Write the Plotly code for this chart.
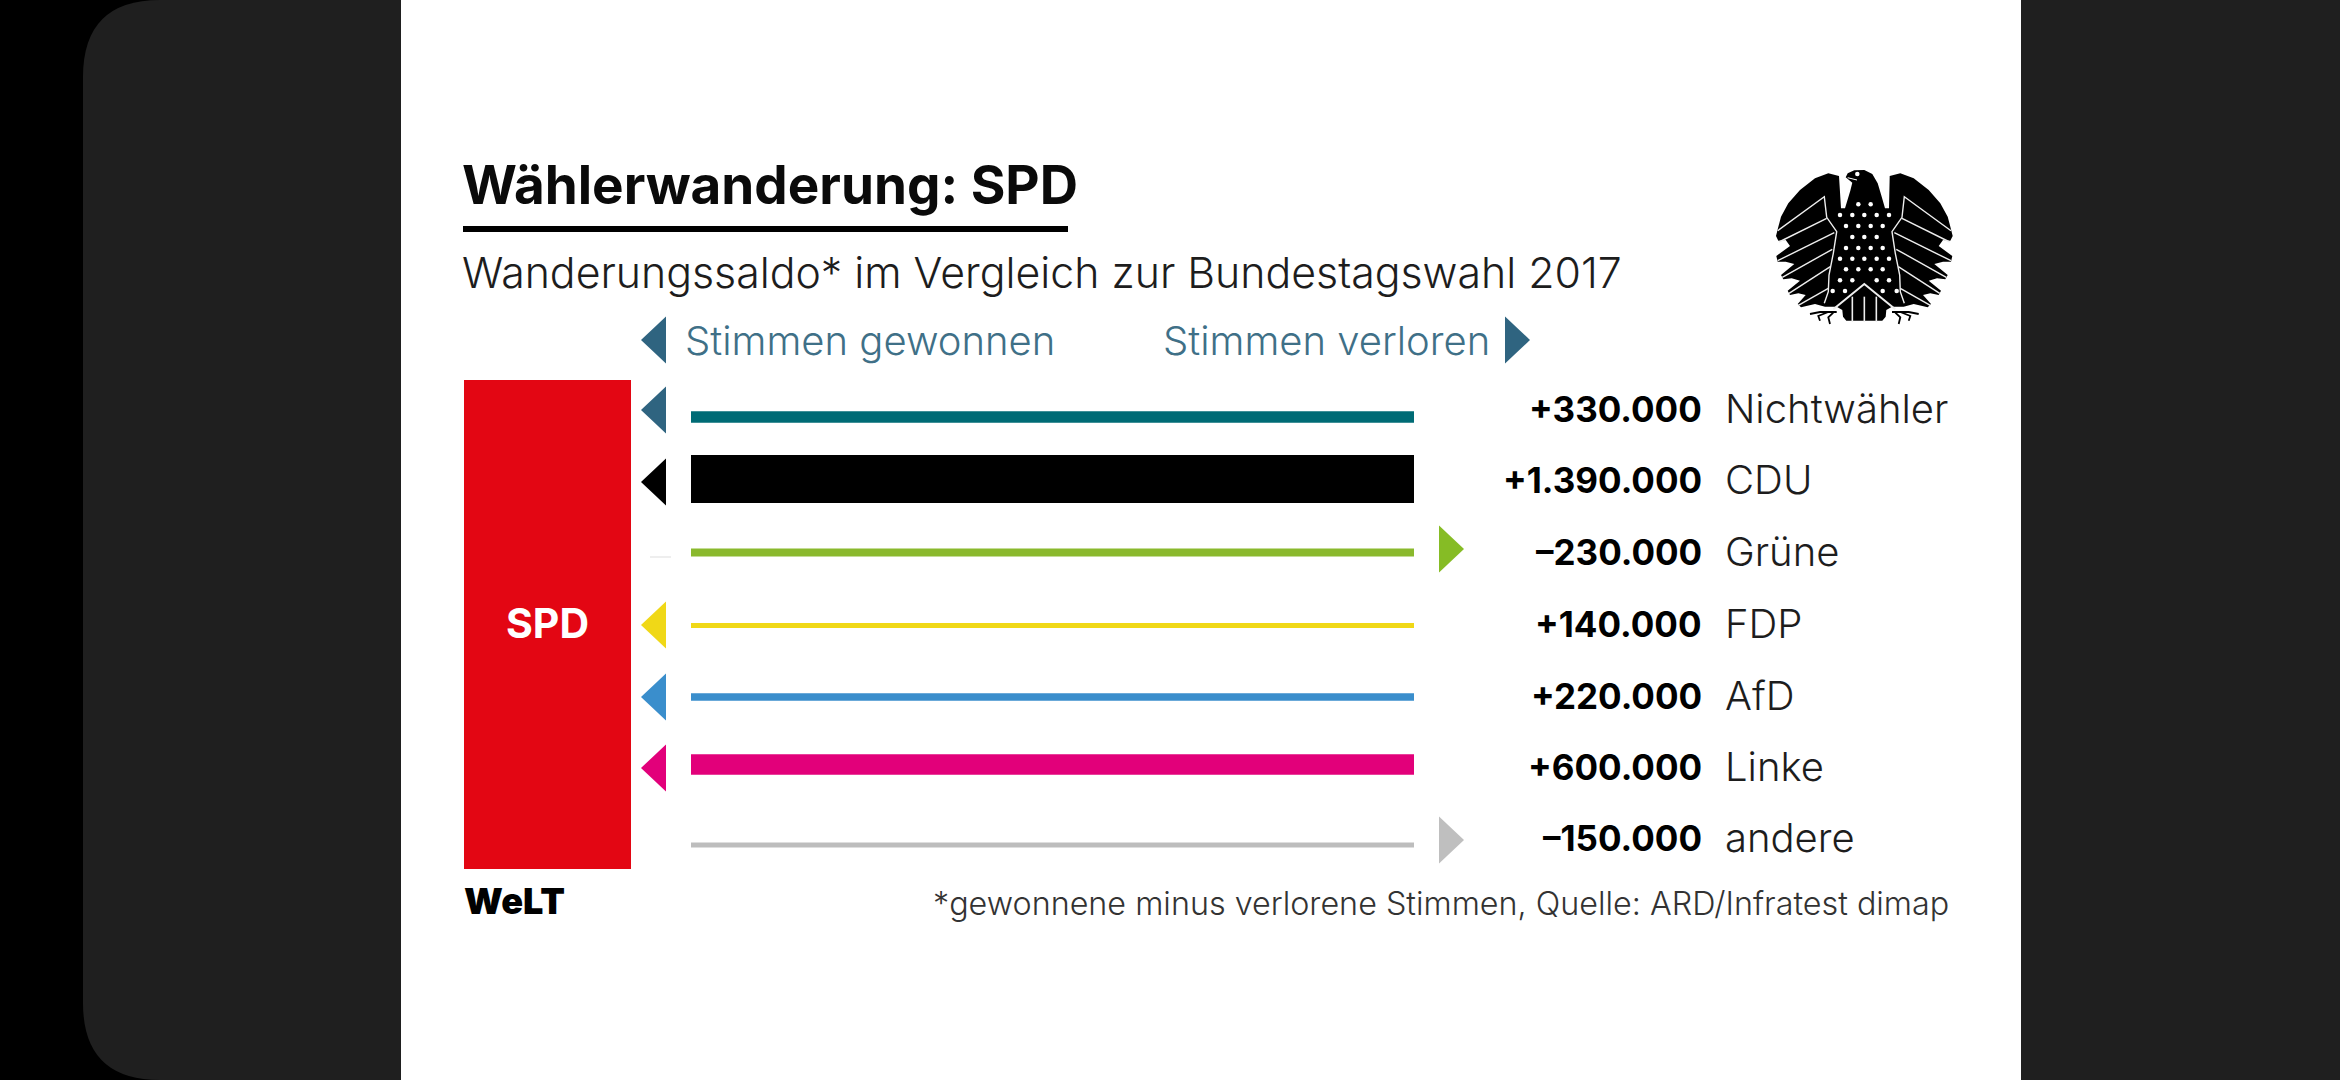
import plotly.graph_objects as go

# ── data ─────────────────────────────────────────────────────────────────────
parties = ["Nichtwähler", "CDU", "Grüne", "FDP", "AfD", "Linke", "andere"]
saldo = [330000, 1390000, -230000, 140000, 220000, 600000, -150000]
bar_colors = ["#006b75", "#000000", "#8ab92d", "#f0d817", "#3a8ecc", "#e2007a", "#bdbdbd"]
arrow_colors = ["#2f6480", "#000000", "#86bc25", "#f0d817", "#3a8ecc", "#e2007a", "#bfbfbf"]

# the axes run in picture pixels, row positions
bar_y = [417, 479, 552.5, 625.5, 697, 764.5, 845]
arrow_y = [410, 482, 549, 625, 697, 768, 840]
text_y = [408.5, 479.5, 551.5, 623.5, 695.5, 766.5, 837.5]

BAR_X0, BAR_X1 = 691, 1414
PX_PER_VOTE = 48 / 1390000   # line thickness is proportional to the saldo

FONT = "Inter"
TEAL = "#3f7087"

fig = go.Figure()


def arrow(x_base, y, sign, color, w=25, h=47):
    # sign > 0: points left (votes won), sign < 0: points right (votes lost)
    tip = x_base - w if sign > 0 else x_base + w
    fig.add_trace(go.Scatter(x=[x_base, tip, x_base, x_base], y=[y - h / 2, y, y + h / 2, y - h / 2],
                             mode="lines", fill="toself", fillcolor=color,
                             line=dict(width=0), hoverinfo="skip", showlegend=False))


def label(x, y, text, size, color="#1d1d1d", anchor="left", weight=300):
    fig.add_annotation(x=x, y=y, text=text, showarrow=False, xanchor=anchor, yanchor="middle",
                       borderpad=0, font=dict(family=FONT, size=size, color=color, weight=weight))


# ── lines ────────────────────────────────────────────────────────────────────
fig.add_trace(go.Bar(
    y=bar_y, x=[BAR_X1 - BAR_X0] * len(saldo), base=BAR_X0, orientation="h",
    width=[abs(v) * PX_PER_VOTE for v in saldo],
    marker=dict(color=bar_colors, line=dict(width=0)),
    hovertext=parties, showlegend=False,
))

# ── arrows ───────────────────────────────────────────────────────────────────
for y, v, c in zip(arrow_y, saldo, arrow_colors):
    arrow(666 if v > 0 else 1439, y, v, c)
arrow(666, 340, 1, "#2f6480")
arrow(1505, 340, -1, "#2f6480")

# ── row labels ───────────────────────────────────────────────────────────────
for y, p, v in zip(text_y, parties, saldo):
    sign = "+" if v > 0 else "–"
    label(1703, y, sign + f"{abs(v):,}".replace(",", "."), 35, "#000000", "right", 700)
    label(1724, y, p, 40)

# ── texts ────────────────────────────────────────────────────────────────────
label(461, 185, "Wählerwanderung: SPD", 53, "#0a0a0a", weight=700)
label(461, 272, "Wanderungssaldo* im Vergleich zur Bundestagswahl 2017", 42.8)
label(684, 340, "Stimmen gewonnen", 40, TEAL)
label(1491, 340, "Stimmen verloren", 40, TEAL, "right")
label(547, 623, "SPD", 41, "#ffffff", "center", 700)
label(463, 901, "WeLT", 36, "#000000", weight=900)
label(1950, 903, "*gewonnene minus verlorene Stimmen, Quelle: ARD/Infratest dimap", 32.3, "#333333", "right")

# ── page furniture ───────────────────────────────────────────────────────────
shapes = [
    # dark phone panel with rounded left corners
    dict(type="path", layer="below", fillcolor="#1f1f1f", line_width=0,
         path="M 160 0 L 2340 0 L 2340 1080 L 160 1080 Q 83 1080 83 1003 L 83 77 Q 83 0 160 0 Z"),
    dict(type="rect", layer="below", x0=401, x1=2021, y0=0, y1=1080, fillcolor="#ffffff", line_width=0),
    dict(type="rect", layer="below", x0=464, x1=631, y0=380, y1=869, fillcolor="#e30613", line_width=0),
    dict(type="rect", layer="below", x0=463, x1=1068, y0=226, y1=232, fillcolor="#000000", line_width=0),
    dict(type="line", layer="below", x0=650, x1=671, y0=557, y1=557, line=dict(color="#dddddd", width=1)),
]


# ── Bundesadler, drawn in the 600px wide crop space ──────────────────────────
def ex(x):
    return 1765 + x / 3


def ey(y):
    return 160 + y / 3


def epath(points, close=True):
    p = " L ".join(f"{ex(x):.1f} {ey(y):.1f}" for x, y in points)
    return "M " + p + (" Z" if close else "")


def mirror(points):
    return [(596 - x, y) for x, y in points]


wing_left = [(222, 48), (190, 40), (150, 55), (105, 90), (70, 130), (48, 170), (38, 208), (33, 228), (40, 242),
             (62, 240), (75, 258), (34, 288), (38, 305), (62, 305), (88, 312), (48, 345), (55, 358), (80, 355),
             (105, 362), (68, 392), (75, 405), (100, 400), (122, 405), (98, 432), (108, 442), (150, 432),
             (180, 440), (215, 440)]
silhouette = wing_left + [(232, 450), (234, 470), (244, 482), (352, 482), (362, 470), (364, 450), (381, 440)] \
    + mirror(wing_left)[::-1][1:] + [(372, 145), (360, 145), (350, 110), (338, 70), (322, 42), (298, 30),
                                     (268, 31), (248, 40), (242, 52), (262, 68), (256, 92), (240, 145), (228, 145)]
shapes.append(dict(type="path", layer="below", path=epath(silhouette), fillcolor="#000000", line_width=0))

white_left = [
    [(38, 212), (178, 110), (185, 172), (215, 215), (205, 280), (192, 345), (190, 395), (178, 430)],
    [(42, 246), (185, 175)],
    [(38, 302), (208, 218)],
    [(52, 352), (202, 268)],
    [(72, 400), (196, 320)],
    [(100, 436), (190, 385)],
]
for pts in white_left + [mirror(p) for p in white_left]:
    shapes.append(dict(type="path", layer="below", path=epath(pts, close=False),
                       line=dict(color="#eeeeee", width=1.4)))

# tail
shapes.append(dict(type="path", layer="below", path=epath([(205, 448), (298, 372), (391, 448)], close=False),
                   line=dict(color="#eeeeee", width=2)))
for x in [262, 298, 334]:
    shapes.append(dict(type="line", layer="below", x0=ex(x), x1=ex(x), y0=ey(410), y1=ey(486),
                       line=dict(color="#eeeeee", width=1.6)))

# feet
foot_left = [
    [(215, 456), (165, 456), (135, 462)],
    [(190, 456), (160, 468), (165, 482)],
    [(205, 458), (190, 472), (195, 492)],
]
for pts in foot_left + [mirror(p) for p in foot_left]:
    shapes.append(dict(type="path", layer="below", path=epath(pts, close=False),
                       line=dict(color="#000000", width=1.8)))

# beak
shapes.append(dict(type="path", layer="below", path=epath([(248, 53), (276, 60)], close=False),
                   line=dict(color="#ffffff", width=1)))

# feather dots and eye
dot_rows = {
    133: [280, 317],
    165: [225, 262, 298, 335, 372],
    198: [243, 280, 317, 353],
    231: [262, 298, 335],
    264: [243, 280, 317, 353],
    296: [225, 262, 298, 335, 372],
    328: [243, 280, 317, 353],
    361: [225, 262, 335, 372],
    393: [203, 240, 353, 395],
    42: [277],
}
dx, dy = [], []
for row, xs in dot_rows.items():
    dx += [ex(x) for x in xs]
    dy += [ey(row)] * len(xs)
fig.add_trace(go.Scatter(x=dx, y=dy, mode="markers", marker=dict(color="#ffffff", size=4.5),
                         hoverinfo="skip", showlegend=False))

fig.update_layout(
    width=2340, height=1080, margin=dict(l=0, r=0, t=0, b=0),
    paper_bgcolor="#000000", plot_bgcolor="rgba(0,0,0,0)",
    shapes=shapes, showlegend=False, barmode="overlay",
    xaxis=dict(range=[0, 2340], visible=False, fixedrange=True),
    yaxis=dict(range=[1080, 0], visible=False, fixedrange=True),
)

fig.write_html("out.html", post_script="document.body.style.margin='0';", config=dict(displayModeBar=False))
